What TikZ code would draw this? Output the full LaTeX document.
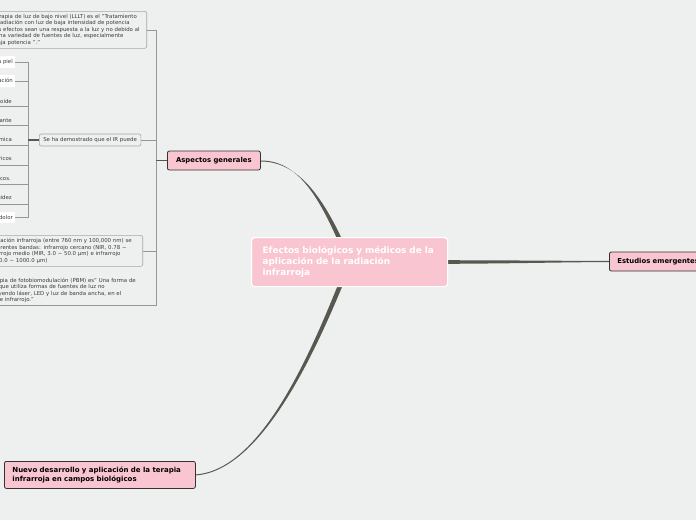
\documentclass[tikz,border=0pt]{standalone}
\usepackage{fontspec}
\setmainfont{DejaVu Sans}
\usetikzlibrary{calc}
\definecolor{fondo}{RGB}{238,240,239}
\definecolor{rosa}{RGB}{249,197,209}
\definecolor{rama}{RGB}{88,88,80}
\definecolor{hilo}{RGB}{150,150,150}
\definecolor{borde}{RGB}{165,165,165}
\definecolor{letra}{RGB}{60,60,60}
\pgfdeclarelayer{capafondo}
\pgfdeclarelayer{capalineas}
\pgfsetlayers{capafondo,capalineas,main}
\tikzset{
  central/.style={fill=rosa,draw=white,line width=1.2pt,rounded corners=3pt,text=white,
    font=\bfseries\fontsize{8.9}{11}\selectfont,align=left,text width=174pt,inner xsep=11pt,minimum height=49pt},
  tema/.style={fill=rosa,draw=black!80,line width=0.8pt,rounded corners=2pt,
    font=\bfseries\fontsize{6.85}{9}\selectfont,minimum height=19pt},
  nota/.style={draw=borde,line width=0.6pt,rounded corners=2pt,font=\fontsize{5.4}{6.5}\selectfont,
    text=letra,align=left,inner xsep=3pt,inner ysep=2.5pt},
  efecto/.style={font=\fontsize{5.4}{6}\selectfont,text=letra,anchor=east,inner xsep=1pt,minimum height=11pt},
  caja/.style={efecto,fill=white,minimum height=10pt,inner xsep=2pt},
  hilo/.style={draw=hilo,line width=0.6pt},
  enlace/.style={draw=rama,line width=1.2pt}
}
\begin{document}
\begin{tikzpicture}[x=1pt,y=-1pt]
	\useasboundingbox (0,0) rectangle (696,520);
	\begin{pgfonlayer}{capafondo}
		\fill[fondo] (0,0) rectangle (696,520);
	\end{pgfonlayer}
	
	\node[central,anchor=north west] (central) at (251,237) {Efectos biológicos y médicos de la\\aplicación de la radiación\\infrarroja};
	\node[tema,anchor=west,minimum width=93pt] (asp) at (167,160.5) {Aspectos generales};
	\node[tema,anchor=west,inner xsep=8pt] (est) at (609,261.5) {Estudios emergentes};
	\node[tema,anchor=north west,align=left,text width=175pt,inner xsep=8pt,minimum height=27pt,font=\bfseries\fontsize{7}{9}\selectfont] (nuevo) at (4,461) {Nuevo desarrollo y aplicación de la terapia\\infrarroja en campos biológicos};
	
	\node[nota,anchor=north east,text width=158pt,minimum height=37pt] (nota1) at (147,11) {La terapia de luz de bajo nivel (LLLT) es el "Tratamiento\\de irradiación con luz de baja intensidad de potencia\\cuyos efectos sean una respuesta a la luz y no debido al\\y a una variedad de fuentes de luz, especialmente\\de baja potencia "."};
	\node[nota,anchor=west,inner xsep=4pt,minimum height=12pt] (ir) at (39,140) {Se ha demostrado que el IR puede};
	\node[nota,anchor=north east,text width=158pt,minimum height=31pt] (nota2) at (143,235) {La radiación infrarroja (entre 760 nm y 100,000 nm) se\\en diferentes bandas: infrarrojo cercano (NIR, 0.78 \textasciitilde\\y infrarrojo medio (MIR, 3.0 \textasciitilde{} 50.0 μm) e infrarrojo\\(FIR, 50.0 \textasciitilde{} 1000.0 μm)};
	\node[nota,draw=none,anchor=north east,text width=158pt,minimum height=30pt] (nota3) at (142,275) {La terapia de fotobiomodulación (PBM) es" Una forma de\\de luz que utiliza formas de fuentes de luz no\\e incluyendo láser, LED y luz de banda ancha, en el\\visible e infrarrojo."};
	
	\node[caja] (e1) at (15,62) {Rejuvenecer la piel};
	\node[caja] (e2) at (15,81) {Mejorar la microcirculación};
	\node[efecto] (e3) at (13,101) {Tratar la artritis reumatoide};
	\node[efecto] (e4) at (13,120) {Actuar como antioxidante};
	\node[efecto] (e5) at (13,139.5) {Mejorar la regulación térmica};
	\node[efecto] (e6) at (13,159) {Tratar trastornos psiquiátricos};
	\node[efecto] (e7) at (12,178.5) {Aliviar trastornos musculoesqueléticos.};
	\node[efecto] (e8) at (13,198) {Disminuir la rigidez};
	\node[caja] (e9) at (15,217.5) {Aliviar el dolor};
	
	\coordinate (tronco) at (156,160.5);
	\coordinate (rama) at (28,140);
	\begin{pgfonlayer}{capalineas}
		\draw[hilo] (nota1.east) -| (tronco);
		\draw[hilo] (ir.east) -| (tronco);
		\draw[hilo] (nota2.east) -| (tronco);
		\draw[hilo] (nota3.south west) -- (nota3.south east) -| (tronco);
		\draw[enlace] (asp.west) -- (tronco);
		
		\draw[hilo] (e1.east) -| (rama);
		\draw[hilo] (e2.east) -| (rama);
		\foreach \i in {3,...,8}
			\draw[hilo] (e\i.south west) -- (e\i.south east) -| (rama);
		\draw[hilo] (e9.east) -| (rama);
		\draw[enlace] (ir.west) -- (rama);
		
		\fill[rama] (asp.east) .. controls +(40,0) and +(-25,-60) .. ($(central.center)+(-2.5,0)$)
			-- ($(central.center)+(2.5,0)$) .. controls +(-25,-60) and +(40,0) .. ($(asp.east)+(0,1)$) -- cycle;
		\fill[rama] ($(central.center)+(-2.5,0)$) .. controls +(-30,75) and +(70,-5) .. ($(nuevo.east)+(0,-0.5)$)
			-- ($(nuevo.east)+(0,0.5)$) .. controls +(70,-5) and +(-30,75) .. ($(central.center)+(2.5,0)$) -- cycle;
		\fill[rama] ($(central.center)+(0,-2)$) .. controls +(170,0) and +(-60,0) .. ($(est.west)+(0,-0.6)$)
			-- ($(est.west)+(0,0.6)$) .. controls +(-60,0) and +(170,0) .. ($(central.center)+(0,2)$) -- cycle;
	\end{pgfonlayer}
\end{tikzpicture}
\end{document}
